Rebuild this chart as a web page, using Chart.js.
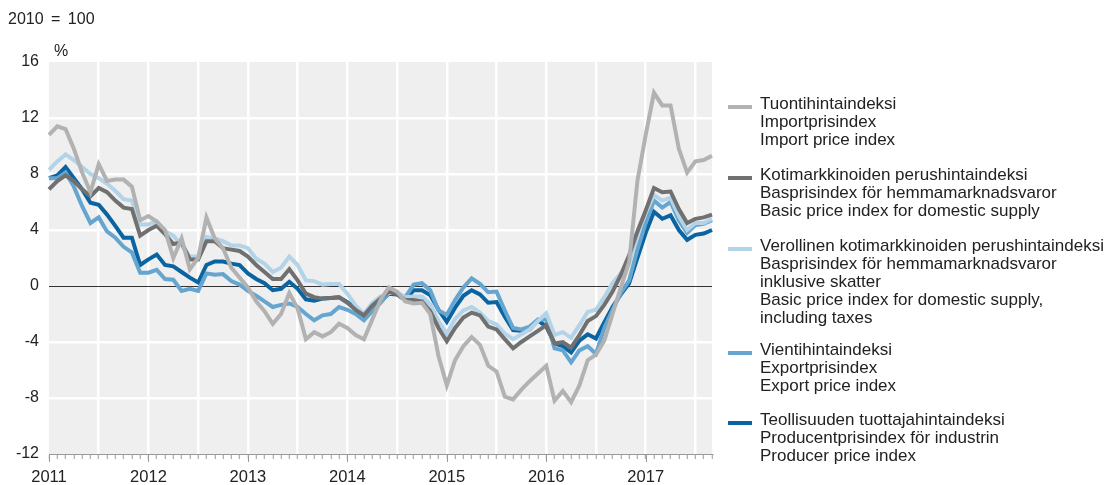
<!DOCTYPE html>
<html>
<head>
<meta charset="utf-8">
<script src="https://cdn.jsdelivr.net/npm/chart.js@4.4.1/dist/chart.umd.min.js"></script>
<style>
  body { margin: 0; background: #fff; }
  #wrap { position: relative; width: 1108px; height: 485px; font-family: 'Liberation Sans', Arial, sans-serif; color: #222; }
  canvas { position: absolute; left: 0; top: 0; }
  .txt { position: absolute; font-size: 16px; line-height: 16px; white-space: nowrap; }
  .entry { position: absolute; left: 760px; font-size: 17px; line-height: 18px; white-space: nowrap; }
  .mark { position: absolute; left: 728px; width: 24px; height: 4px; }
</style>
</head>
<body>
<div id="wrap">
  <canvas id="priceChart" width="1108" height="485"></canvas>
  <div class="txt" style="left:8px; top:11px; word-spacing:3px;">2010 = 100</div>
  <div class="txt" style="left:54px; top:43px;">%</div>
  <div id="legend"></div>
</div>
<script>
// Monthly change on a year earlier, Jan 2011 - Sep 2017
const years = [2011, 2012, 2013, 2014, 2015, 2016, 2017];
const lastMonth = 9; // Sep 2017

const importIdx = [10.8, 11.4, 11.2, 9.8, 8.1, 6.7, 8.7, 7.5, 7.6, 7.6, 7.1, 4.7,
  5.0, 4.6, 4.0, 2.0, 3.4, 1.2, 2.0, 4.9, 3.4, 2.7, 1.3, 0.6,
  -0.1, -1.1, -1.8, -2.7, -2.0, -0.5, -1.6, -3.8, -3.3, -3.6, -3.3, -2.7,
  -3.0, -3.5, -3.8, -2.4, -1.0, -0.1, -0.4, -1.1, -1.25, -1.2, -2.0, -5.0,
  -7.1, -5.3, -4.3, -3.65, -4.2, -5.7, -6.1, -7.9, -8.1, -7.4, -6.8, -6.25,
  -5.7, -8.2, -7.5, -8.3, -7.1, -5.3, -4.9, -3.9, -2.0, -0.1, 1.7, 7.5,
  10.8, 13.8, 12.9, 12.9, 9.8, 8.1, 8.9, 9.0, 9.3];

const basicIdx = [6.9, 7.5, 7.9, 7.5, 6.9, 6.4, 7.0, 6.7, 6.1, 5.6, 5.5, 3.6,
  4.0, 4.3, 3.7, 3.0, 3.1, 1.9, 1.9, 3.2, 3.2, 2.7, 2.6, 2.5,
  2.1, 1.5, 1.0, 0.5, 0.5, 1.2, 0.4, -0.55, -0.8, -0.9, -0.85, -0.8,
  -1.2, -1.7, -2.1, -1.4, -0.9, -0.4, -0.6, -1.0, -1.0, -1.1, -1.8, -3.0,
  -3.95, -3.0, -2.25, -1.9, -2.1, -2.9, -3.1, -3.8, -4.45, -4.0, -3.6, -3.2,
  -2.8, -4.1, -4.0, -4.4, -3.5, -2.5, -2.15, -1.35, -0.4, 0.8, 2.2, 3.9,
  5.4, 7.0, 6.7, 6.75, 5.5, 4.5, 4.8, 4.9, 5.1];

const taxIdx = [8.3, 8.9, 9.4, 9.0, 8.5, 8.0, 7.7, 7.3, 6.8, 6.2, 6.1, 4.4,
  4.4, 4.6, 3.9, 3.6, 2.9, 2.1, 2.1, 3.5, 3.4, 3.2, 2.9, 2.9,
  2.7, 1.95, 1.6, 1.0, 1.3, 2.1, 1.5, 0.4, 0.35, 0.1, 0.15, 0.15,
  -0.55, -1.4, -2.0, -1.2, -0.75, -0.5, -0.5, -0.8, -0.75, -0.75, -1.3, -2.5,
  -3.4, -2.35, -1.75, -1.5, -1.9, -2.5, -2.75, -3.4, -3.8, -3.45, -3.1, -2.5,
  -1.95, -3.5, -3.3, -3.7, -2.8, -1.85, -1.7, -0.8, 0.2, 0.9, 1.6, 3.7,
  5.2, 6.5, 6.1, 6.3, 5.0, 4.0, 4.5, 4.5, 4.8];

const exportIdx = [7.7, 7.7, 8.1, 7.1, 5.7, 4.5, 4.9, 3.9, 3.45, 2.8, 2.4, 0.95,
  0.95, 1.15, 0.5, 0.45, -0.35, -0.2, -0.35, 0.9, 0.8, 0.85, 0.35, 0.1,
  -0.35, -0.7, -1.1, -1.5, -1.35, -1.25, -1.5, -2.0, -2.45, -2.1, -2.0, -1.5,
  -1.7, -2.0, -2.45, -1.8, -1.2, -0.5, -0.5, -0.8, 0.1, 0.2, -0.3, -1.75,
  -2.05, -1.0, -0.1, 0.55, 0.15, -0.45, -0.4, -1.75, -3.0, -3.1, -2.9, -2.4,
  -2.4, -4.45, -4.6, -5.45, -4.6, -4.3, -4.85, -3.0, -1.7, -0.5, 0.4, 2.6,
  4.5, 6.1, 5.6, 6.0, 4.7, 3.8, 4.35, 4.45, 4.7];

const producerIdx = [7.7, 7.9, 8.5, 7.7, 6.9, 5.95, 5.8, 5.1, 4.3, 3.45, 3.45, 1.5,
  1.9, 2.25, 1.5, 1.4, 1.0, 0.6, 0.25, 1.5, 1.75, 1.75, 1.6, 1.5,
  0.9, 0.5, 0.2, -0.3, -0.2, 0.3, -0.2, -0.95, -1.05, -0.9, -0.85, -0.8,
  -1.15, -1.6, -2.15, -1.7, -1.1, -0.55, -0.6, -1.0, -0.3, -0.3, -0.65, -1.7,
  -2.55, -1.55, -0.7, -0.3, -0.6, -1.2, -1.15, -2.2, -3.15, -3.2, -3.1, -2.45,
  -2.9, -4.1, -4.3, -4.75, -3.9, -3.45, -3.75, -2.6, -1.5, -0.6, 0.2, 2.0,
  3.8, 5.3, 4.8, 5.05, 4.0, 3.3, 3.65, 3.75, 4.0];

const yTicks = [-12, -8, -4, 0, 4, 8, 12, 16];

const seriesNames = [
  ['Tuontihintaindeksi', 'Importprisindex', 'Import price index'],
  ['Kotimarkkinoiden perushintaindeksi', 'Basprisindex för hemmamarknadsvaror', 'Basic price index for domestic supply'],
  ['Verollinen kotimarkkinoiden perushintaindeksi', 'Basprisindex för hemmamarknadsvaror', 'inklusive skatter', 'Basic price index for domestic supply,', 'including taxes'],
  ['Vientihintaindeksi', 'Exportprisindex', 'Export price index'],
  ['Teollisuuden tuottajahintaindeksi', 'Producentprisindex för industrin', 'Producer price index']
];
const colors = ['#b2b2b2', '#707070', '#b3d3e8', '#65a5cf', '#0a64a2'];
const legendTops = [95, 166, 237, 341, 411];

const labels = [];
years.forEach(y => {
  for (let m = 1; m <= 12; m++) {
    if (y === 2017 && m > lastMonth) break;
    labels.push(y + '-' + String(m).padStart(2, '0'));
  }
});

// legend
const legend = document.getElementById('legend');
seriesNames.forEach((lines, i) => {
  const e = document.createElement('div');
  e.className = 'entry';
  e.style.top = legendTops[i] + 'px';
  e.innerHTML = lines.join('<br>');
  legend.appendChild(e);
  const m = document.createElement('div');
  m.className = 'mark';
  m.style.top = (legendTops[i] + 10) + 'px';
  m.style.background = colors[i];
  legend.appendChild(m);
});

const plotBackground = {
  id: 'plotBackground',
  beforeDraw(chart) {
    const a = chart.chartArea, c = chart.ctx;
    c.save();
    c.fillStyle = '#efefef';
    c.fillRect(a.left, a.top, a.right - a.left, a.bottom - a.top);
    c.restore();
  },
  afterDraw(chart) {
    // longer ticks at the start of each year
    const x = chart.scales.x, c = chart.ctx, b = chart.chartArea.bottom;
    c.save();
    c.strokeStyle = '#999';
    c.lineWidth = 1;
    labels.forEach((l, i) => {
      if (l.endsWith('-01')) {
        const px = Math.round(x.getPixelForValue(i)) + 0.5;
        c.beginPath();
        c.moveTo(px, b);
        c.lineTo(px, b + 8);
        c.stroke();
      }
    });
    c.restore();
  }
};

Chart.defaults.font.family = "'Liberation Sans', Arial, sans-serif";
Chart.defaults.color = '#222';

const ctx = document.getElementById('priceChart').getContext('2d');
new Chart(ctx, {
  type: 'line',
  data: {
    labels: labels,
    datasets: [importIdx, basicIdx, taxIdx, exportIdx, producerIdx].map((d, i) => ({
      label: seriesNames[i][0],
      data: d,
      borderColor: colors[i],
      backgroundColor: colors[i],
      borderWidth: 4,
      pointRadius: 0,
      tension: 0,
      fill: false
    }))
  },
  options: {
    responsive: false,
    animation: false,
    layout: { padding: { left: 0, right: 396, top: 62, bottom: 0 } },
    scales: {
      x: {
        offset: false,
        afterFit: s => { s.height = 31; },
        grid: {
          color: c => (c.index > 0 && c.index % 6 === 0) ? '#ffffff' : 'rgba(0,0,0,0)',
          lineWidth: 2.5,
          tickColor: '#999',
          tickLength: 5,
          tickWidth: 1
        },
        border: { display: true, color: '#999', width: 1 },
        ticks: {
          autoSkip: false,
          maxRotation: 0,
          padding: 9,
          font: { size: 16.5 },
          callback: (v, i) => labels[i].endsWith('-01') ? labels[i].slice(0, 4) : ''
        }
      },
      y: {
        min: yTicks[0],
        max: yTicks[yTicks.length - 1],
        afterFit: s => { s.width = 49; },
        afterBuildTicks: s => { s.ticks = yTicks.map(v => ({ value: v })); },
        grid: {
          drawTicks: false,
          color: c => c.tick.value === 0 ? '#333' : (c.tick.value === yTicks[0] || c.tick.value === yTicks[yTicks.length - 1]) ? 'rgba(0,0,0,0)' : '#ffffff',
          lineWidth: c => c.tick.value === 0 ? 1 : 2.5
        },
        border: { display: false },
        ticks: { padding: 10, font: { size: 16 } }
      }
    },
    plugins: {
      legend: { display: false },
      tooltip: { enabled: false }
    }
  },
  plugins: [plotBackground]
});
</script>
</body>
</html>
